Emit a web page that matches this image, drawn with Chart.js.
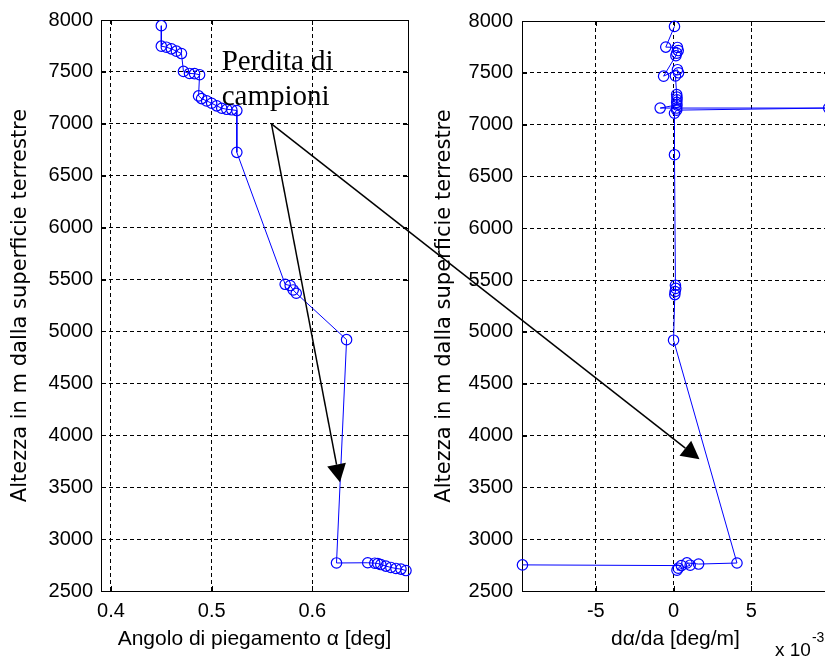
<!DOCTYPE html>
<html>
<head>
<meta charset="utf-8">
<script src="https://cdn.jsdelivr.net/npm/chart.js@4.4.0/dist/chart.umd.min.js"></script>
<style>
  html, body { margin: 0; padding: 0; background: #fff; overflow: hidden; width: 825px; height: 658px; }
  canvas { position: absolute; top: 0; }
  #left { left: 0; }
  #right { left: 420px; }
  #notes { left: 0; pointer-events: none; }
</style>
</head>
<body>
<canvas id="left" width="420" height="658"></canvas>
<canvas id="right" width="420" height="658"></canvas>
<canvas id="notes" width="825" height="658"></canvas>
<script>
// --- left panel: bending angle (deg) vs altitude (m) ---
const alphaAlt = [7945,
  7748, 7738, 7722, 7700, 7677,
  7505, 7485, 7483, 7473,
  7269, 7243, 7221, 7198, 7173, 7150, 7140, 7135, 7128,
  6725,
  5454, 5442, 5400, 5368,
  4921,
  2770,
  2772, 2768, 2765, 2755, 2740, 2727, 2717, 2711, 2697];
const alphaDeg = [0.450,
  0.450, 0.455, 0.460, 0.465, 0.470,
  0.472, 0.478, 0.483, 0.488,
  0.487, 0.490, 0.495, 0.500, 0.505, 0.510, 0.515, 0.520, 0.525,
  0.525,
  0.573, 0.578, 0.581, 0.584,
  0.634,
  0.624,
  0.655, 0.662, 0.665, 0.668, 0.673, 0.678, 0.683, 0.688, 0.693];

// --- right panel: d(alpha)/da (deg/m) vs altitude (m) ---
const slopeAlt = [7948,
  7748, 7745, 7715, 7690, 7665,
  7468, 7530, 7500, 7470,
  7290, 7265, 7240, 7215, 7190, 7160, 7160, 7160, 7140, 7110,
  6710,
  5450, 5420, 5390, 5360,
  4920,
  2770, 2760, 2771, 2749, 2701, 2720, 2745, 2752];
const slopeVal = [0.00006,
  -0.00050, 0.00025, 0.00030, 0.00020, 0.00015,
  -0.00064, 0.00025, 0.00032, 0.00012,
  0.00020, 0.00022, 0.00022, 0.00020, 0.00022, -0.00086, 0.00020, 0.00998, 0.00020, 0.00006,
  0.00006,
  0.00012, 0.00014, 0.00010, 0.00008,
  0.00000,
  0.00408, 0.00161, 0.00086, 0.00107, 0.00022, 0.00030, 0.00050, -0.00972];

const altTicks = [2500, 3000, 3500, 4000, 4500, 5000, 5500, 6000, 6500, 7000, 7500, 8000];
const alphaTicks = [0.4, 0.5, 0.6];
const slopeTicks = [-0.005, 0, 0.005];

// annotation "Perdita di campioni" and its two arrows (data coords)
const noteLines = ['Perdita di', 'campioni'];
const noteAt = [0.510, 7520];          // left panel
const arrowFrom = [0.5594, 7000];      // left panel
const arrowTipLeft = [0.6274, 3547];   // left panel
const arrowTipRight = [0.00167, 3771]; // right panel

const sans = '"Liberation Sans", Arial, sans-serif';
const tickFont = { family: sans, size: 20 };
const yTitle = 'Altezza in m dalla superficie terrestre';

// solid box round the plot area, with small inward tick marks
const boxPlugin = {
  id: 'box',
  beforeDatasetsDraw(chart) {
    const { ctx, chartArea: a, scales: { x, y } } = chart;
    ctx.save();
    ctx.strokeStyle = '#000';
    ctx.lineWidth = 1;
    ctx.setLineDash([]);
    ctx.strokeRect(a.left + 0.5, a.top + 0.5, a.right - a.left, a.bottom - a.top);
    ctx.beginPath();
    x.ticks.forEach(t => {
      const p = Math.round(x.getPixelForValue(t.value)) + 0.5;
      ctx.moveTo(p, a.bottom); ctx.lineTo(p, a.bottom - 5);
      ctx.moveTo(p, a.top); ctx.lineTo(p, a.top + 5);
    });
    y.ticks.forEach(t => {
      const p = Math.round(y.getPixelForValue(t.value)) + 0.5;
      ctx.moveTo(a.left, p); ctx.lineTo(a.left + 5, p);
      ctx.moveTo(a.right, p); ctx.lineTo(a.right - 5, p);
    });
    ctx.stroke();
    ctx.restore();
  }
};

function altAxis(width, titlePad, tickPad) {
  return {
    type: 'linear', min: 2500, max: 8000,
    afterBuildTicks: s => { s.ticks = altTicks.map(v => ({ value: v })); },
    afterFit: s => { s.width = width; },
    grid: { color: '#000', lineWidth: 1, drawTicks: false },
    border: { display: true, color: '#000', dash: [4, 3] },
    ticks: { color: '#000', padding: tickPad, font: tickFont, callback: v => String(v) },
    title: {
      display: true, text: yTitle, color: '#000',
      font: { family: '"DejaVu Sans", sans-serif', size: 21 },
      padding: { top: titlePad, bottom: 0 }
    }
  };
}

function xAxis(min, max, ticks, fmt, title) {
  return {
    type: 'linear', min: min, max: max,
    afterBuildTicks: s => { s.ticks = ticks.map(v => ({ value: v })); },
    afterFit: s => { s.height = 67; },
    grid: { color: '#000', lineWidth: 1, drawTicks: false },
    border: { display: true, color: '#000', dash: [4, 3] },
    ticks: { color: '#000', padding: 8, font: tickFont, callback: fmt },
    title: {
      display: true, text: title, color: '#000',
      font: { family: sans, size: 21 },
      padding: { top: 0, bottom: 6 }
    }
  };
}

function series(xs, ys) {
  return {
    data: xs.map((v, i) => ({ x: v, y: ys[i] })),
    showLine: true,
    borderColor: '#0000ff',
    borderWidth: 1,
    tension: 0,
    pointStyle: 'circle',
    pointRadius: 5.2,
    pointBorderWidth: 1.2,
    pointBorderColor: '#0000ff',
    pointBackgroundColor: 'rgba(0,0,0,0)',
    clip: false
  };
}

const common = {
  responsive: false,
  animation: false,
  devicePixelRatio: 1,
  events: [],
  plugins: { legend: { display: false }, tooltip: { enabled: false } }
};

const leftChart = new Chart(document.getElementById('left'), {
  type: 'scatter',
  data: { datasets: [series(alphaDeg, alphaAlt)] },
  options: {
    ...common,
    layout: { padding: { top: 17, right: 12, left: 0, bottom: 0 } },
    scales: {
      x: xAxis(0.3901, 0.6950, alphaTicks, v => String(v), 'Angolo di piegamento \u03b1 [deg]'),
      y: altAxis(101, 8, 8)
    }
  },
  plugins: [boxPlugin]
});

// "x 10^-3" multiplier under the right end of the x axis
const expPlugin = {
  id: 'exp',
  afterDraw(chart) {
    const { ctx, chartArea: a } = chart;
    ctx.save();
    ctx.fillStyle = '#000';
    ctx.textBaseline = 'alphabetic';
    ctx.font = '19px ' + sans;
    const x0 = a.right - 54;
    ctx.fillText('x 10', x0, 656);
    const w = ctx.measureText('x 10').width;
    ctx.font = '14px ' + sans;
    ctx.fillText('-3', x0 + w + 1, 642);
    ctx.restore();
  }
};

const rightChart = new Chart(document.getElementById('right'), {
  type: 'scatter',
  data: { datasets: [series(slopeVal, slopeAlt)] },
  options: {
    ...common,
    layout: { padding: { top: 17, right: 11, left: 0, bottom: 0 } },
    scales: {
      x: xAxis(-0.00975, 0.0100, slopeTicks, v => String(Math.round(v * 1000)), 'd\u03b1/da [deg/m]'),
      y: altAxis(102, 12, 9)
    }
  },
  plugins: [boxPlugin, expPlugin]
});

function arrow(ctx, a, b) {
  const ang = Math.atan2(b[1] - a[1], b[0] - a[0]);
  const len = 18, half = 9.5;
  const bx = b[0] - len * Math.cos(ang), by = b[1] - len * Math.sin(ang);
  ctx.beginPath();
  ctx.moveTo(a[0], a[1]);
  ctx.lineTo(bx, by);
  ctx.stroke();
  ctx.beginPath();
  ctx.moveTo(b[0], b[1]);
  ctx.lineTo(bx + half * Math.sin(ang), by - half * Math.cos(ang));
  ctx.lineTo(bx - half * Math.sin(ang), by + half * Math.cos(ang));
  ctx.closePath();
  ctx.fill();
}

function drawNotes() {
  const ctx = document.getElementById('notes').getContext('2d');
  const offR = document.getElementById('right').offsetLeft;
  const L = leftChart.scales, R = rightChart.scales;
  const lx = v => L.x.getPixelForValue(v), ly = v => L.y.getPixelForValue(v);
  const rx = v => offR + R.x.getPixelForValue(v), ry = v => R.y.getPixelForValue(v);

  ctx.fillStyle = '#000';
  ctx.strokeStyle = '#000';
  ctx.lineWidth = 1.5;
  ctx.font = '29px "Liberation Serif", "Times New Roman", serif';
  noteLines.forEach((t, i) => ctx.fillText(t, lx(noteAt[0]), ly(noteAt[1]) + i * 35));

  const from = [lx(arrowFrom[0]), ly(arrowFrom[1])];
  arrow(ctx, from, [lx(arrowTipLeft[0]), ly(arrowTipLeft[1])]);
  arrow(ctx, from, [rx(arrowTipRight[0]), ry(arrowTipRight[1])]);
}

drawNotes();
</script>
</body>
</html>
